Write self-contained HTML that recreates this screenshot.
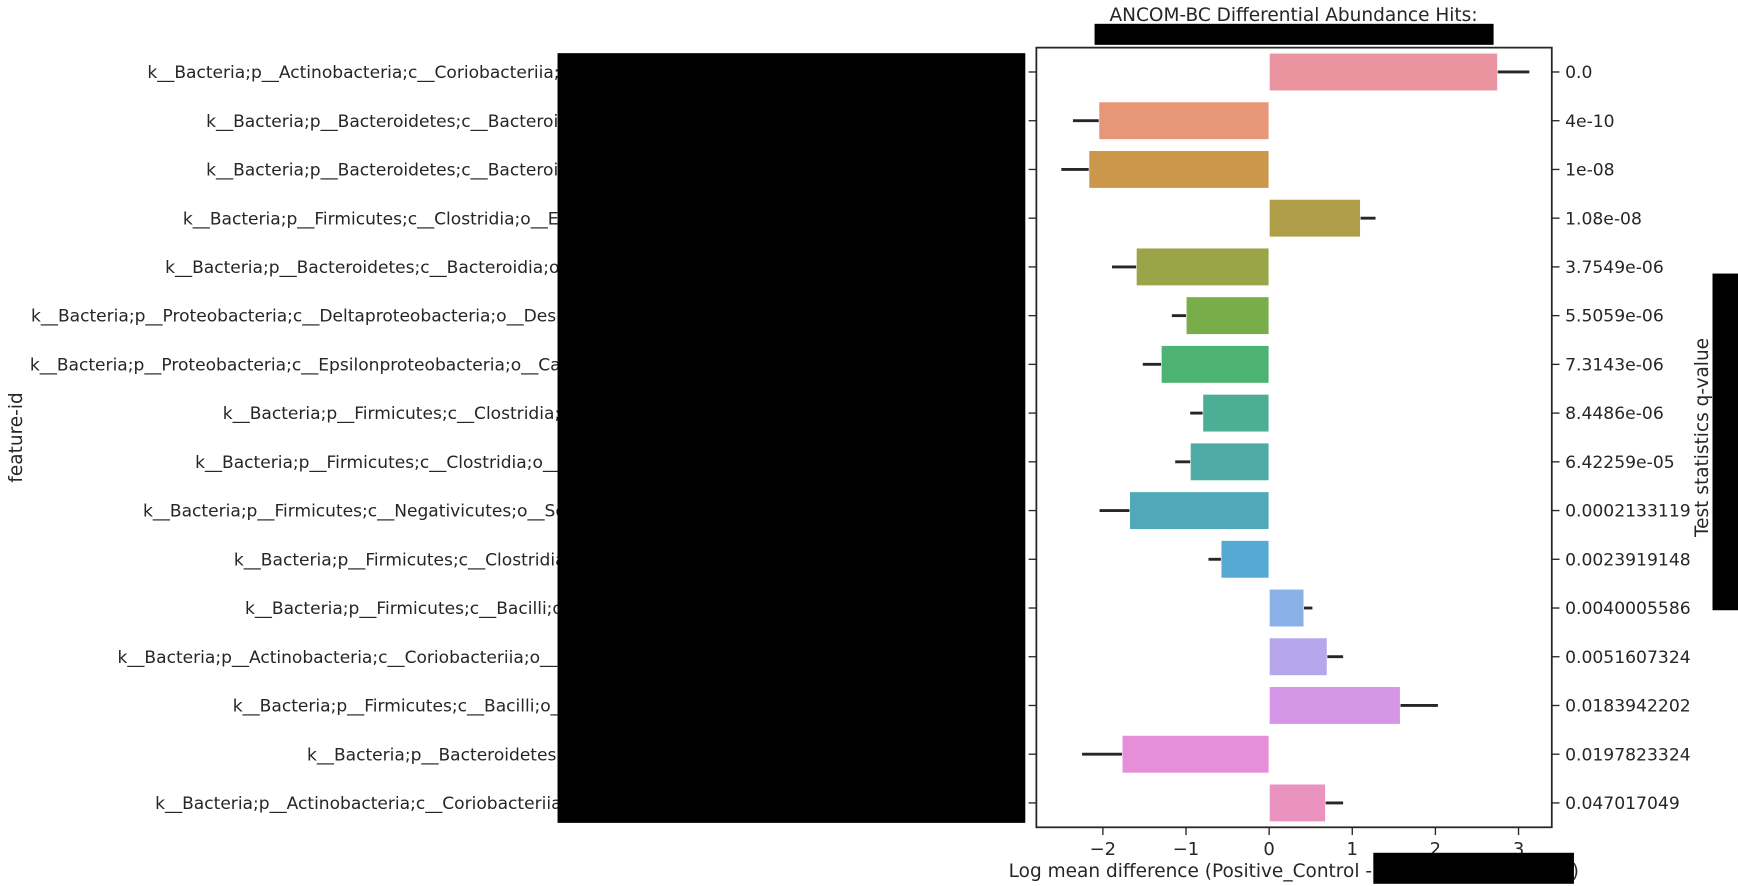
<!DOCTYPE html>
<html><head><meta charset="utf-8"><style>
html,body{margin:0;padding:0;background:#fff;}
svg{display:block;font-family:"DejaVu Sans","Liberation Sans",sans-serif;}
text{fill:#262626;}
</style></head><body>
<svg id="chart" width="1738" height="886" viewBox="0 0 1568 800" preserveAspectRatio="none" xmlns="http://www.w3.org/2000/svg">
<g id="left-labels"></g>
<rect x="503" y="48" width="422" height="695" fill="#000"/>
<g id="plot"></g>
<text x="1167" y="19" font-size="16.7" text-anchor="middle">ANCOM-BC Differential Abundance Hits:</text>
<rect x="987" y="21" width="361" height="20" fill="#000" stroke="#fff" stroke-width="1"/>
<text x="910" y="792" font-size="16.7">Log mean difference (Positive_Control - </text>
<text x="1418" y="792" font-size="16.7">)</text>
<rect x="1239" y="770" width="181" height="28" fill="#000"/>
<text transform="translate(20,395) rotate(-90)" font-size="16.7" text-anchor="middle">feature-id</text>
<text transform="translate(1541,395) rotate(-90)" font-size="16.7" text-anchor="middle">Test statistics q-value</text>
<rect x="1545" y="247" width="23" height="304" fill="#000"/>
</svg>
<script>
const labels=["k__Bacteria;p__Actinobacteria;c__Coriobacteriia;o__Coriobacteriales","k__Bacteria;p__Bacteroidetes;c__Bacteroidia;o__Bacteroidales","k__Bacteria;p__Bacteroidetes;c__Bacteroidia;o__Bacteroidales","k__Bacteria;p__Firmicutes;c__Clostridia;o__Erysipelotrichales","k__Bacteria;p__Bacteroidetes;c__Bacteroidia;o__Bacteroidales","k__Bacteria;p__Proteobacteria;c__Deltaproteobacteria;o__Desulfovibrionales","k__Bacteria;p__Proteobacteria;c__Epsilonproteobacteria;o__Campylobacterales","k__Bacteria;p__Firmicutes;c__Clostridia;o__Clostridiales","k__Bacteria;p__Firmicutes;c__Clostridia;o__Clostridiales","k__Bacteria;p__Firmicutes;c__Negativicutes;o__Selenomonadales","k__Bacteria;p__Firmicutes;c__Clostridia;o__Clostridiales","k__Bacteria;p__Firmicutes;c__Bacilli;o__Lactobacillales","k__Bacteria;p__Actinobacteria;c__Coriobacteriia;o__Eggerthellales","k__Bacteria;p__Firmicutes;c__Bacilli;o__Lactobacillales","k__Bacteria;p__Bacteroidetes;c__Bacteroidia;o__Bacteroidales","k__Bacteria;p__Actinobacteria;c__Coriobacteriia;o__Coriobacteriales"];
const labelStart=[133,186,186,165,149,28,27,201,176,129,211,221,106,210,277,140];
const values=[2.75,-2.05,-2.17,1.1,-1.6,-1.0,-1.3,-0.8,-0.95,-1.68,-0.58,0.42,0.7,1.58,-1.77,0.68];
const errTips=[3.13,-2.36,-2.5,1.28,-1.89,-1.17,-1.52,-0.95,-1.13,-2.04,-0.73,0.52,0.89,2.03,-2.25,0.89];
const qvalues=["0.0","4e-10","1e-08","1.08e-08","3.7549e-06","5.5059e-06","7.3143e-06","8.4486e-06","6.42259e-05","0.0002133119","0.0023919148","0.0040005586","0.0051607324","0.0183942202","0.0197823324","0.047017049"];
const xTicks=[-2,-1,0,1,2,3];
const colors=["#e9949f","#e79677","#cb974b","#b09d47","#9aa548","#78ad4a","#4cb373","#4cae94","#4eaba6","#50a9b8","#55a9d3","#8ab0e8","#b6a6ec","#d596e8","#e68ed8","#e993be"];
const NS="http://www.w3.org/2000/svg";
const L=935,R=1400,T=43,B=747,xMin=-2.8,xMax=3.4;
const x=v=>L+(v-xMin)/(xMax-xMin)*(R-L);
const step=(B-T)/values.length;
const y=i=>T+step*(i+0.5);
function mk(tag,attrs,parent){const e=document.createElementNS(NS,tag);for(const k in attrs)e.setAttribute(k,attrs[k]);parent.appendChild(e);return e;}
const plot=document.getElementById('plot'),left=document.getElementById('left-labels');
values.forEach((v,i)=>{
  const bh=step*0.78;
  const r=mk('rect',{x:Math.min(x(0),x(v)),y:y(i)-bh/2,width:Math.abs(x(v)-x(0)),height:bh,fill:colors[i],stroke:'#fff','stroke-width':1},plot);
  
  
  const e=mk('line',{x1:x(v),x2:x(errTips[i]),y1:y(i),y2:y(i),stroke:'#262626','stroke-width':2.6},plot);
  
  
  mk('line',{x1:L-7,x2:L,y1:y(i),y2:y(i),stroke:'#262626','stroke-width':1.2},plot);
  mk('line',{x1:R,x2:R+7,y1:y(i),y2:y(i),stroke:'#262626','stroke-width':1.2},plot);
  const q=mk('text',{x:R+12,y:y(i)+5.5,'font-size':15.5},plot);q.textContent=qvalues[i];
  
  
  const t=mk('text',{x:labelStart[i],y:y(i)+5.5,'font-size':15.4},left);t.textContent=labels[i];
  
  
});
xTicks.forEach(v=>{
  mk('line',{x1:x(v),x2:x(v),y1:B,y2:B+7,stroke:'#262626','stroke-width':1.2},plot);
  const t=mk('text',{x:x(v),y:B+25,'font-size':16.2,'text-anchor':'middle'},plot);t.textContent=v<0?'\u2212'+Math.abs(v):String(v);
  
  
});
const fr=mk('rect',{x:L,y:T,width:R-L,height:B-T,fill:'none',stroke:'#262626','stroke-width':1.6},plot);


</script>
</body></html>
